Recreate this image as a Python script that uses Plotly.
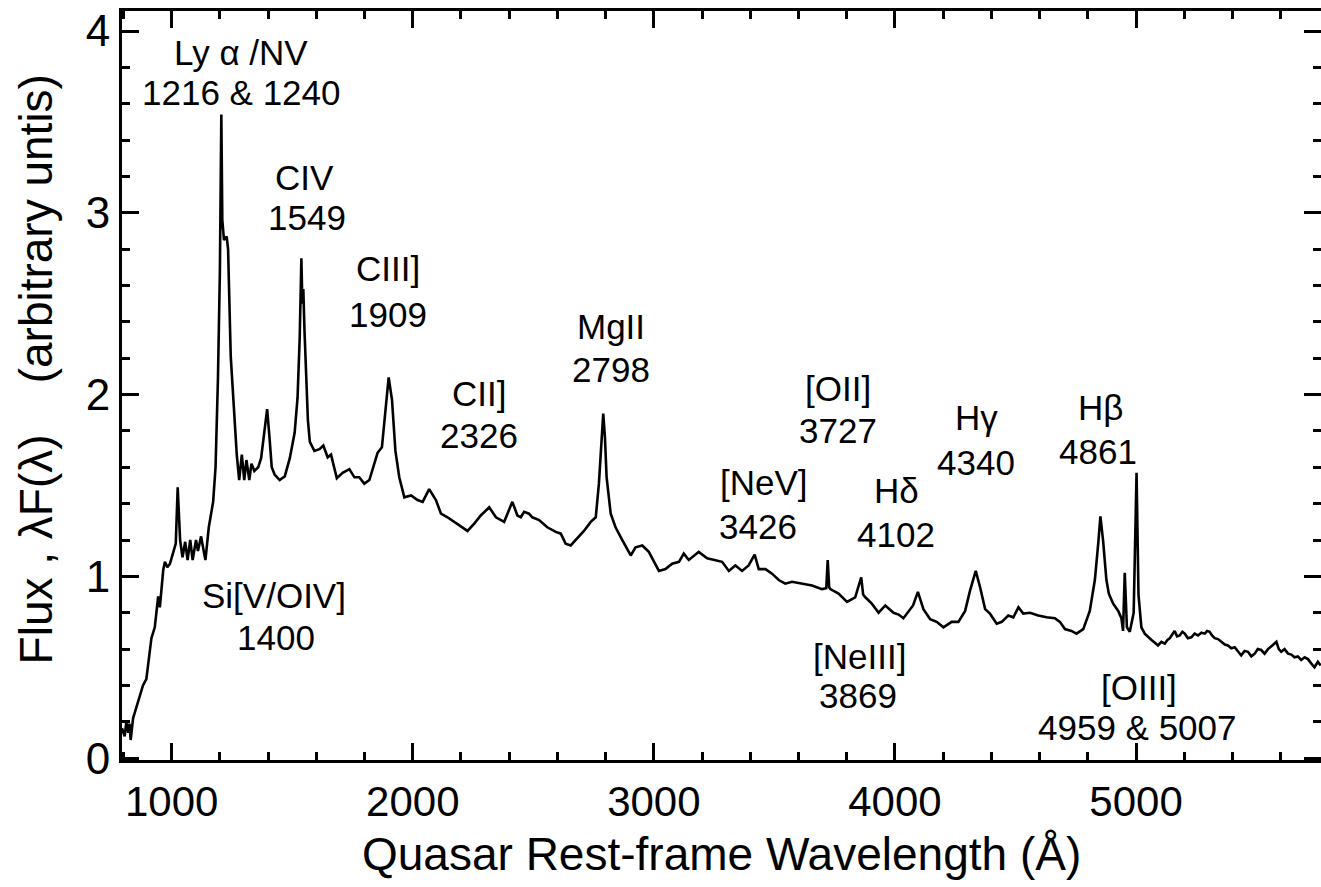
import plotly.graph_objects as go

# Quasar composite spectrum
wavelength = [
    794, 805, 812, 820, 825, 830, 840, 853, 867, 881, 895, 905, 916, 930, 944, 951, 958, 965, 972, 982,
    993, 1007, 1017, 1025, 1030, 1035, 1045, 1056, 1066, 1077, 1087, 1101, 1109, 1122, 1130, 1140, 1154,
    1172, 1182, 1192, 1200, 1206, 1210, 1217, 1228, 1234, 1245, 1256, 1270, 1280, 1291, 1301, 1310, 1322,
    1331, 1343, 1359, 1371, 1385, 1396, 1406, 1415, 1427, 1448, 1469, 1490, 1510, 1522, 1531, 1538, 1542,
    1546, 1551, 1558, 1565, 1573, 1592, 1613, 1629, 1647, 1661, 1685, 1709, 1737, 1758, 1778, 1799, 1820,
    1841, 1854, 1872, 1886, 1900, 1914, 1928, 1944, 1965, 1993, 2020, 2041, 2068, 2096, 2117, 2144, 2172,
    2200, 2227, 2255, 2282, 2317, 2345, 2379, 2413, 2434, 2448, 2462, 2482, 2496, 2524, 2558, 2593, 2614,
    2634, 2655, 2683, 2710, 2738, 2759, 2772, 2782, 2790, 2797, 2804, 2821, 2841, 2869, 2904, 2924, 2952,
    2979, 3000, 3021, 3048, 3076, 3104, 3124, 3145, 3186, 3221, 3256, 3283, 3311, 3338, 3366, 3393, 3418,
    3435, 3463, 3490, 3518, 3545, 3573, 3614, 3656, 3697, 3715, 3721, 3727, 3732, 3766, 3801, 3835, 3860,
    3868, 3877, 3904, 3932, 3960, 3994, 4015, 4035, 4056, 4075, 4095, 4118, 4146, 4173, 4201, 4235, 4263,
    4291, 4311, 4335, 4353, 4374, 4394, 4422, 4443, 4470, 4491, 4512, 4532, 4560, 4594, 4629, 4663, 4684,
    4705, 4732, 4753, 4781, 4808, 4829, 4843, 4852, 4863, 4877, 4887, 4905, 4926, 4939, 4946, 4953, 4962,
    4974, 4990, 5002, 5010, 5022, 5036, 5050, 5064, 5078, 5091, 5105, 5119, 5130, 5140, 5150, 5160, 5170,
    5181, 5192, 5202, 5215, 5229, 5243, 5257, 5271, 5285, 5295, 5305, 5315, 5326, 5340, 5354, 5368, 5381,
    5395, 5409, 5422, 5436, 5450, 5464, 5478, 5492, 5505, 5519, 5533, 5547, 5565, 5582, 5592, 5602, 5616,
    5630, 5644, 5657, 5671, 5685, 5699, 5713, 5727, 5740, 5754, 5766,
]
flux = [
    0.165, 0.12, 0.20, 0.14, 0.19, 0.10, 0.22, 0.28, 0.33, 0.40, 0.435, 0.55, 0.66, 0.72, 0.89, 0.83, 0.95,
    1.035, 1.08, 1.05, 1.07, 1.13, 1.18, 1.49, 1.30, 1.20, 1.105, 1.19, 1.09, 1.20, 1.09, 1.20, 1.14, 1.22,
    1.16, 1.09, 1.27, 1.41, 1.60, 2.09, 2.68, 3.54, 2.96, 2.85, 2.87, 2.80, 2.21, 1.98, 1.67, 1.53, 1.67,
    1.53, 1.64, 1.53, 1.62, 1.58, 1.60, 1.65, 1.79, 1.92, 1.76, 1.60, 1.56, 1.53, 1.55, 1.65, 1.79, 1.98,
    2.31, 2.75, 2.50, 2.58, 2.35, 2.05, 1.86, 1.74, 1.69, 1.70, 1.72, 1.655, 1.67, 1.54, 1.57, 1.59, 1.545,
    1.545, 1.51, 1.53, 1.62, 1.68, 1.71, 1.91, 2.095, 1.97, 1.69, 1.545, 1.435, 1.445, 1.42, 1.41, 1.48,
    1.42, 1.345, 1.325, 1.30, 1.27, 1.25, 1.29, 1.335, 1.38, 1.325, 1.30, 1.41, 1.335, 1.325, 1.355, 1.345,
    1.325, 1.31, 1.27, 1.245, 1.235, 1.18, 1.17, 1.21, 1.25, 1.30, 1.325, 1.51, 1.765, 1.895, 1.765, 1.545,
    1.345, 1.27, 1.20, 1.115, 1.16, 1.17, 1.135, 1.08, 1.03, 1.04, 1.07, 1.08, 1.125, 1.09, 1.135, 1.10,
    1.09, 1.08, 1.03, 1.06, 1.03, 1.06, 1.12, 1.04, 1.04, 1.015, 0.98, 0.96, 0.97, 0.96, 0.95, 0.93, 0.935,
    1.09, 0.94, 0.93, 0.905, 0.86, 0.885, 0.995, 0.90, 0.885, 0.85, 0.80, 0.84, 0.80, 0.79, 0.77, 0.81,
    0.84, 0.915, 0.82, 0.765, 0.75, 0.72, 0.75, 0.75, 0.81, 0.92, 1.03, 0.94, 0.82, 0.795, 0.74, 0.75, 0.785,
    0.775, 0.83, 0.795, 0.80, 0.785, 0.775, 0.77, 0.75, 0.71, 0.70, 0.685, 0.71, 0.81, 0.98, 1.18, 1.33,
    1.20, 0.98, 0.905, 0.85, 0.81, 0.77, 0.70, 1.02, 0.72, 0.695, 0.80, 1.57, 0.90, 0.72, 0.685, 0.665, 0.65,
    0.635, 0.62, 0.64, 0.63, 0.65, 0.66, 0.68, 0.70, 0.67, 0.675, 0.695, 0.685, 0.66, 0.665, 0.685, 0.675,
    0.69, 0.685, 0.70, 0.695, 0.675, 0.66, 0.655, 0.64, 0.625, 0.62, 0.605, 0.61, 0.59, 0.565, 0.59, 0.585,
    0.56, 0.575, 0.60, 0.595, 0.575, 0.60, 0.62, 0.64, 0.60, 0.585, 0.60, 0.575, 0.57, 0.555, 0.56, 0.54,
    0.555, 0.545, 0.52, 0.50, 0.53, 0.51,
]

# Line labels: (first line, second line)
label_top = ["Ly \u03b1 /NV", "CIV", "CIII]", "CII]", "MgII", "[OII]", "[NeV]", "H\u03b4", "H\u03b3",
             "H\u03b2", "Si[V/OIV]", "[NeIII]", "[OIII]"]
label_bottom = ["1216 & 1240", "1549", "1909", "2326", "2798", "3727", "3426", "4102", "4340",
                "4861", "1400", "3869", "4959 & 5007"]

x_title = "Quasar Rest-frame Wavelength (\u00c5)"
y_title = "Flux , \u03bbF(\u03bb)\u00a0\u00a0\u00a0\u00a0(arbitrary untis)"

FONT = "Liberation Sans, Arial, Helvetica, sans-serif"

# label anchor positions (wavelength, flux) for first and second lines
label_pos_top = [(1286, 3.883), (1552, 3.196), (1896, 2.695), (2273, 2.008), (2821, 2.376),
                 (3763, 2.035), (3456, 1.518), (4007, 1.474), (4339, 1.876), (4854, 1.931),
                 (1423, 0.897), (3854, 0.561), (5011, 0.391)]
label_pos_bottom = [(1290, 3.663), (1560, 2.976), (1896, 2.442), (2273, 1.777), (2821, 2.140),
                    (3763, 1.804), (3431, 1.276), (4003, 1.232), (4335, 1.628), (4841, 1.689),
                    (1431, 0.666), (3846, 0.347), (5007, 0.171)]

fig = go.Figure()
fig.add_trace(go.Scatter(x=wavelength, y=flux, mode="lines",
                         line=dict(color="black", width=2.6), hoverinfo="skip", showlegend=False))
# invisible trace so the right-hand tick axis is drawn
fig.add_trace(go.Scatter(x=[wavelength[0]], y=[flux[0]], yaxis="y2", mode="markers",
                         marker=dict(opacity=0), hoverinfo="skip", showlegend=False))

annotations = []
for txt, (x, y) in zip(label_top, label_pos_top):
    annotations.append(dict(x=x, y=y, xref="x", yref="y", text=txt, showarrow=False,
                            xanchor="center", yanchor="middle",
                            font=dict(family=FONT, size=35, color="black")))
for txt, (x, y) in zip(label_bottom, label_pos_bottom):
    annotations.append(dict(x=x, y=y, xref="x", yref="y", text=txt, showarrow=False,
                            xanchor="center", yanchor="middle",
                            font=dict(family=FONT, size=35, color="black")))
annotations.append(dict(x=0.5, y=-0.125, xref="paper", yref="paper", text=x_title, showarrow=False,
                        xanchor="center", yanchor="middle",
                        font=dict(family=FONT, size=46, color="black")))
annotations.append(dict(x=-0.072, y=0.521, xref="paper", yref="paper", text=y_title, showarrow=False,
                        xanchor="center", yanchor="middle", textangle=-90,
                        font=dict(family=FONT, size=46, color="black")))

axis_common = dict(showgrid=False, zeroline=False, ticks="inside", tickcolor="black",
                   ticklen=17, tickwidth=3)

fig.update_layout(
    width=1321, height=887,
    margin=dict(l=122, r=0, t=11, b=127),
    paper_bgcolor="white", plot_bgcolor="white",
    showlegend=False,
    annotations=annotations,
    xaxis=dict(range=[794, 5767], tick0=0, dtick=1000, showline=True, linecolor="black",
               linewidth=3, mirror="ticks", ticklabelstandoff=3,
               tickfont=dict(family=FONT, size=42, color="black"),
               minor=dict(dtick=200, tick0=0, ticks="inside", ticklen=8, tickwidth=2.5,
                          tickcolor="black", showgrid=False),
               **axis_common),
    yaxis=dict(range=[-0.01, 4.11], tick0=0, dtick=1, showline=True, linecolor="black",
               linewidth=3, mirror=False,
               tickfont=dict(family=FONT, size=44, color="black"),
               minor=dict(dtick=0.2, tick0=0, ticks="inside", ticklen=8, tickwidth=2.5,
                          tickcolor="black", showgrid=False),
               **axis_common),
    yaxis2=dict(range=[-0.01, 4.11], overlaying="y", side="right", tick0=0, dtick=1,
                showline=False, showticklabels=False,
                minor=dict(dtick=0.2, tick0=0, ticks="inside", ticklen=8, tickwidth=2.5,
                           tickcolor="black", showgrid=False),
                **axis_common),
)

fig.write_html("out.html")
